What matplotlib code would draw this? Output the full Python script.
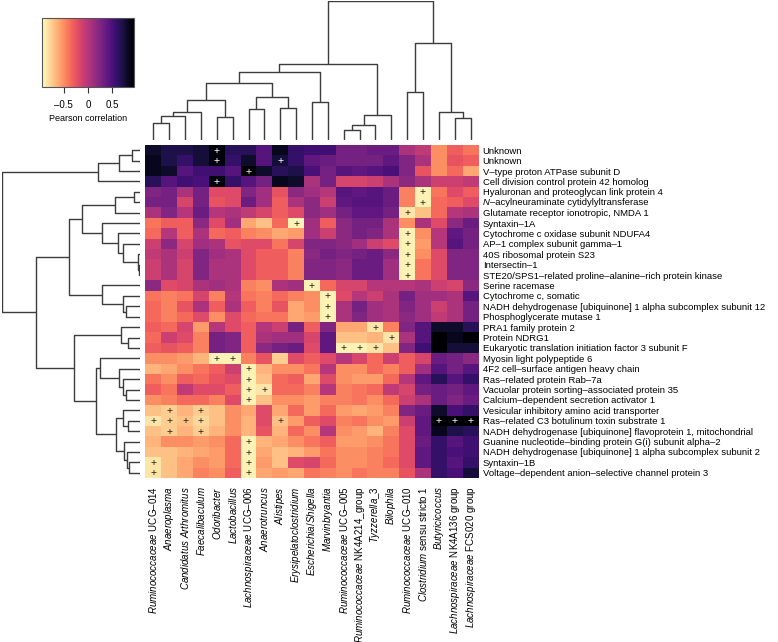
import numpy as np
import matplotlib
matplotlib.use("Agg")
import matplotlib.pyplot as plt
from matplotlib.colors import Normalize
from matplotlib.cm import ScalarMappable

plt.rcParams['font.family'] = ['Liberation Sans', 'DejaVu Sans']
plt.rcParams['mathtext.fontset'] = 'custom'
plt.rcParams['mathtext.rm'] = 'Liberation Sans'
plt.rcParams['mathtext.it'] = 'Liberation Sans:italic'

# bacteria (columns, in dendrogram order)
bacteria = [
    r'$\it{Ruminococcaceae}$ UCG–014', r'$\it{Anaeroplasma}$',
    r'$\it{Candidatus}$ $\it{Arthromitus}$', r'$\it{Faecalibaculum}$',
    r'$\it{Odoribacter}$', r'$\it{Lactobacillus}$',
    r'$\it{Lachnospiraceae}$ UCG–006', r'$\it{Anaerotruncus}$',
    r'$\it{Alistipes}$', r'$\it{Erysipelatoclostridium}$',
    r'$\it{Escherichia/Shigella}$', r'$\it{Marvinbryantia}$',
    r'$\it{Ruminococcaceae}$ UCG–005', r'$\it{Ruminococcaceae}$ NK4A214_group',
    r'$\it{Tyzzerella}$_3', r'$\it{Bilophila}$',
    r'$\it{Ruminococcaceae}$ UCG–010', r'$\it{Clostridium}$ sensu stricto 1',
    r'$\it{Butyricicoccus}$', r'$\it{Lachnospiraceae}$ NK4A136 group',
    r'$\it{Lachnospiraceae}$ FCS020 group',
]

# proteins (rows, in dendrogram order)
proteins = [
    'Unknown', 'Unknown', 'V–type proton ATPase subunit D',
    'Cell division control protein 42 homolog',
    'Hyaluronan and proteoglycan link protein 4',
    'N–acylneuraminate cytidylyltransferase',
    'Glutamate receptor ionotropic, NMDA 1', 'Syntaxin–1A',
    'Cytochrome c oxidase subunit NDUFA4', 'AP–1 complex subunit gamma–1',
    '40S ribosomal protein S23', 'Intersectin–1',
    'STE20/SPS1–related proline–alanine–rich protein kinase',
    'Serine racemase', 'Cytochrome c, somatic',
    'NADH dehydrogenase [ubiquinone] 1 alpha subcomplex subunit 12',
    'Phosphoglycerate mutase 1', 'PRA1 family protein 2', 'Protein NDRG1',
    'Eukaryotic translation initiation factor 3 subunit F',
    'Myosin light polypeptide 6', '4F2 cell–surface antigen heavy chain',
    'Ras–related protein Rab–7a',
    'Vacuolar protein sorting–associated protein 35',
    'Calcium–dependent secretion activator 1',
    'Vesicular inhibitory amino acid transporter',
    'Ras–related C3 botulinum toxin substrate 1',
    'NADH dehydrogenase [ubiquinone] flavoprotein 1, mitochondrial',
    'Guanine nucleotide–binding protein G(i) subunit alpha–2',
    'NADH dehydrogenase [ubiquinone] 1 alpha subcomplex subunit 2',
    'Syntaxin–1B', 'Voltage–dependent anion–selective channel protein 3',
]
# leading part of a protein label set in italics
italic_prefix = {5: 'N'}

# Pearson correlation, rows = proteins, columns = bacteria
corr = [
    [0.80, 0.70, 0.70, 0.75, 0.90, 0.65, 0.65, 0.45, 0.85, 0.60, 0.55, 0.55, 0.30, 0.30, 0.35, 0.35, 0.05, -0.05, -0.50, -0.30, -0.40],
    [0.85, 0.70, 0.60, 0.75, 0.90, 0.60, 0.80, 0.45, 0.75, 0.60, 0.40, 0.35, 0.30, 0.30, 0.30, 0.40, 0.25, 0.05, -0.50, -0.25, -0.30],
    [0.85, 0.80, 0.45, 0.55, 0.55, 0.45, 0.95, 0.80, 0.65, 0.70, 0.50, 0.30, 0.45, 0.40, 0.45, 0.50, 0.25, -0.25, -0.50, -0.35, -0.60],
    [0.65, 0.45, 0.55, 0.50, 0.90, 0.60, 0.45, 0.30, 0.85, 0.80, 0.05, 0.30, -0.15, -0.15, -0.10, 0.05, 0.20, 0.05, -0.10, -0.10, -0.05],
    [0.25, 0.30, 0.05, 0.30, -0.20, -0.20, 0.25, 0.10, -0.25, 0.20, 0.10, 0.00, 0.45, 0.40, 0.45, 0.35, -0.45, -0.90, -0.40, -0.20, -0.30],
    [0.30, 0.30, -0.15, 0.30, -0.25, -0.20, 0.35, 0.10, -0.30, 0.05, 0.20, -0.10, 0.40, 0.45, 0.45, 0.35, -0.45, -0.90, -0.35, -0.30, -0.20],
    [0.05, 0.25, 0.00, 0.35, 0.00, 0.05, -0.05, -0.15, -0.30, -0.20, 0.20, 0.10, 0.30, 0.40, 0.40, 0.30, -0.85, -0.70, -0.35, 0.00, 0.05],
    [-0.40, -0.30, -0.30, 0.20, -0.20, 0.10, -0.60, -0.70, -0.35, -0.90, 0.10, -0.30, 0.20, 0.30, 0.30, 0.05, -0.50, 0.05, -0.20, 0.20, 0.35],
    [-0.35, 0.00, -0.30, 0.05, -0.35, -0.30, -0.45, -0.50, -0.60, -0.55, 0.10, -0.10, 0.20, 0.30, 0.25, 0.05, -0.90, -0.50, 0.00, 0.40, 0.30],
    [-0.10, 0.20, -0.15, 0.10, 0.05, -0.25, -0.20, -0.20, -0.40, -0.15, 0.25, 0.25, 0.20, 0.10, -0.10, -0.20, -0.90, -0.55, 0.00, 0.45, 0.30],
    [-0.05, 0.05, -0.10, 0.25, 0.10, 0.05, -0.20, -0.30, -0.30, -0.45, 0.20, 0.30, 0.25, 0.30, 0.35, 0.20, -0.90, -0.50, -0.20, 0.25, 0.25],
    [-0.10, 0.05, -0.15, 0.25, 0.05, 0.05, -0.20, -0.30, -0.30, -0.45, 0.25, 0.25, 0.20, 0.35, 0.35, 0.10, -0.90, -0.40, -0.20, 0.25, 0.25],
    [-0.10, 0.05, -0.15, 0.25, 0.05, 0.05, -0.20, -0.30, -0.30, -0.45, 0.25, 0.25, 0.20, 0.35, 0.35, 0.10, -0.90, -0.40, -0.20, 0.25, 0.25],
    [0.20, -0.20, -0.15, 0.05, 0.10, 0.05, -0.45, -0.50, 0.05, 0.10, -0.90, -0.35, -0.15, -0.15, 0.00, 0.00, 0.00, 0.05, -0.10, -0.15, 0.20],
    [-0.40, -0.45, -0.40, -0.15, -0.45, 0.00, -0.40, -0.45, -0.35, -0.45, -0.50, -0.90, -0.20, 0.00, -0.10, 0.05, 0.30, 0.10, 0.10, 0.05, 0.45],
    [-0.35, -0.45, -0.25, 0.05, -0.30, 0.05, -0.30, -0.45, -0.25, -0.60, -0.50, -0.90, 0.05, 0.30, 0.10, 0.05, 0.25, 0.10, -0.10, 0.05, 0.30],
    [-0.35, -0.45, -0.35, -0.20, -0.50, -0.20, -0.35, -0.40, -0.40, -0.60, -0.55, -0.90, 0.05, 0.25, 0.10, 0.05, 0.20, 0.10, -0.05, 0.05, 0.30],
    [-0.30, -0.35, -0.15, -0.55, 0.00, -0.20, -0.30, 0.00, -0.10, 0.30, -0.30, 0.25, -0.60, -0.60, -0.85, -0.45, 0.25, 0.45, 0.80, 0.80, 0.65],
    [-0.35, -0.10, -0.20, -0.45, 0.30, 0.25, -0.30, 0.05, 0.10, 0.10, -0.15, 0.40, -0.70, -0.70, -0.65, -0.85, 0.05, 0.45, 0.95, 0.85, 0.95],
    [-0.30, -0.25, -0.30, -0.45, 0.30, 0.25, -0.30, 0.20, 0.30, 0.35, -0.20, 0.40, -0.90, -0.90, -0.85, -0.70, 0.25, 0.55, 0.95, 0.75, 0.75],
    [-0.50, -0.50, -0.55, -0.65, -0.90, -0.90, -0.45, -0.25, -0.75, -0.20, -0.30, -0.20, 0.00, -0.15, -0.35, -0.10, -0.30, -0.15, 0.35, 0.30, 0.20],
    [-0.65, -0.60, -0.50, -0.40, -0.30, -0.10, -0.90, -0.65, -0.50, -0.50, -0.40, 0.00, -0.50, -0.50, -0.35, -0.45, -0.30, 0.10, 0.45, 0.30, 0.45],
    [-0.40, -0.50, -0.30, -0.35, -0.25, -0.20, -0.90, -0.70, -0.35, -0.30, -0.60, -0.20, -0.50, -0.55, -0.55, -0.35, 0.00, 0.40, 0.65, 0.45, 0.60],
    [-0.30, -0.40, -0.05, -0.20, -0.20, -0.30, -0.90, -0.85, -0.35, -0.35, -0.45, 0.00, -0.45, -0.40, -0.35, -0.05, -0.15, 0.30, 0.35, 0.30, 0.40],
    [-0.50, -0.45, -0.35, -0.35, -0.45, -0.20, -0.90, -0.70, -0.50, -0.50, -0.55, -0.45, -0.45, -0.40, -0.50, -0.35, -0.10, 0.05, 0.35, 0.25, 0.35],
    [-0.70, -0.75, -0.65, -0.75, -0.70, -0.50, -0.60, -0.20, -0.60, -0.35, -0.55, -0.35, -0.55, -0.60, -0.55, -0.45, 0.25, 0.35, 0.80, 0.50, 0.60],
    [-0.85, -0.75, -0.70, -0.80, -0.70, -0.50, -0.65, -0.20, -0.70, -0.55, -0.30, -0.20, -0.45, -0.40, -0.50, -0.55, -0.10, 0.40, 0.95, 0.95, 0.95],
    [-0.70, -0.75, -0.65, -0.75, -0.65, -0.50, -0.65, -0.25, -0.65, -0.35, -0.50, 0.00, -0.50, -0.55, -0.65, -0.45, -0.20, 0.40, 0.85, 0.70, 0.65],
    [-0.65, -0.50, -0.50, -0.55, -0.50, -0.35, -0.90, -0.65, -0.60, -0.50, -0.40, -0.30, -0.55, -0.55, -0.50, -0.40, -0.20, 0.35, 0.60, 0.45, 0.55],
    [-0.70, -0.70, -0.65, -0.60, -0.55, -0.35, -0.90, -0.60, -0.70, -0.65, -0.55, -0.40, -0.50, -0.50, -0.45, -0.40, -0.20, 0.40, 0.60, 0.50, 0.55],
    [-0.85, -0.70, -0.60, -0.50, -0.55, -0.35, -0.90, -0.55, -0.70, -0.20, -0.15, -0.35, -0.50, -0.50, -0.45, -0.35, -0.20, 0.40, 0.60, 0.45, 0.60],
    [-0.85, -0.70, -0.60, -0.45, -0.50, -0.30, -0.90, -0.60, -0.55, -0.60, -0.40, -0.45, -0.50, -0.40, -0.45, -0.45, -0.25, 0.05, 0.60, 0.50, 0.75],
]

# significant cells (row, column)
signif = [
    (0, 4), (1, 4), (1, 8), (2, 6), (3, 4), (4, 17), (5, 17), (6, 16), (7, 9),
    (8, 16), (9, 16), (10, 16), (11, 16), (12, 16), (13, 10), (14, 11),
    (15, 11), (16, 11), (17, 14), (18, 15), (19, 12), (19, 13), (19, 14),
    (20, 4), (20, 5), (21, 6), (22, 6), (23, 6), (23, 7), (24, 6), (25, 1),
    (25, 3), (26, 0), (26, 1), (26, 2), (26, 3), (26, 8), (26, 18), (26, 19),
    (26, 20), (27, 1), (27, 3), (28, 6), (29, 6), (30, 0), (30, 6), (31, 0),
    (31, 6),
]

# dendrograms: (height, left, right), leaves are indices
col_tree = (417,
            (227,
             (203,
              (170,
               (120, (85, (72, (52, 0, 1), 2), 3), (70, 4, 5)),
               (128, (92, 6, 7), (97, 8, 9))),
              (115, 10, 11)),
             (75, (45, (30, 12, 13), 14), 15)),
            (292, (144, 16, 17), (83, 18, (65, 19, 20))))

row_tree = (413,
            (125, (61, (23, 0, 1), 2), 3),
            (310,
             (210,
              (171,
               (73, (15, 4, 5), 6),
               (113, 7, (65, 8, (50, 9, (3, 10, (2, 11, 12)))))),
              (113, 13, (50, 14, (41, 15, 16)))),
             (196,
              (56, 17, (33, 18, 19)),
              (131,
               (118, 20, (60, 21, (48, 22, (40, 23, 24)))),
               (71, (50, 25, (35, 26, 27)),
                (45, 28, (38, 29, (30, 30, 31))))))))

data = np.array(corr)
nrow, ncol = data.shape
vmin, vmax = -0.95, 0.95
cmap = plt.get_cmap('magma_r')
norm = Normalize(vmin, vmax)

W, H = 778, 642
fig = plt.figure(figsize=(W / 100, H / 100), dpi=100)


def px_axes(x0, y0, x1, y1):
    return fig.add_axes([x0 / W, 1 - y1 / H, (x1 - x0) / W, (y1 - y0) / H])


def draw_tree(ax, node, vertical, color='#3c3c3c'):
    # returns (position, height) of node
    if not isinstance(node, tuple):
        return node, 0
    h, a, b = node
    pa, ha = draw_tree(ax, a, vertical, color)
    pb, hb = draw_tree(ax, b, vertical, color)
    pos = [pa, pa, pb, pb]
    hts = [ha, h, h, hb]
    if vertical:
        ax.plot(pos, hts, color=color, lw=1.0, solid_capstyle='butt')
    else:
        ax.plot(hts, pos, color=color, lw=1.0, solid_capstyle='butt')
    return (pa + pb) / 2, h


# heatmap
hx0, hy0, hx1, hy1 = 145.4, 145, 478.5, 478
ax = px_axes(hx0, hy0, hx1, hy1)
ax.pcolormesh(np.arange(ncol + 1) - 0.5, np.arange(nrow + 1) - 0.5, data,
              cmap=cmap, norm=norm)
ax.set_xlim(-0.5, ncol - 0.5)
ax.set_ylim(nrow - 0.5, -0.5)
for r, c in signif:
    col = 'white' if data[r, c] > 0.3 else '#222222'
    ax.text(c, r + 0.05, '+', ha='center', va='center', fontsize=7.5, color=col)
for s in ax.spines.values():
    s.set_visible(False)
ax.set_xticks(np.arange(ncol))
ax.set_xticklabels(bacteria, rotation=90, fontsize=7, va='top', ha='center')
ax.set_yticks(np.arange(nrow))
ax.set_yticklabels(['' if i in italic_prefix else p
                    for i, p in enumerate(proteins)], fontsize=6.8)
ax.yaxis.tick_right()
ax.tick_params(axis='x', length=0, pad=6)
ax.tick_params(axis='y', length=0, pad=3)

# labels with an italic leading part, built from two texts
for i, pre in italic_prefix.items():
    head = ax.annotate(pre, xy=(1, i), xycoords=('axes fraction', 'data'),
                       xytext=(3, 0), textcoords='offset points',
                       fontsize=6.8, fontstyle='italic',
                       ha='left', va='center')
    ax.annotate(proteins[i][len(pre):], xy=(1, 0), xycoords=head,
                fontsize=6.8, ha='left', va='bottom')

# top dendrogram
axt = px_axes(hx0, 1, hx1, 140)
draw_tree(axt, col_tree, True)
axt.set_xlim(-0.5, ncol - 0.5)
axt.set_ylim(0, col_tree[0])
axt.axis('off')

# left dendrogram
axl = px_axes(1.5, hy0, 139.5, hy1)
draw_tree(axl, row_tree, False)
axl.set_ylim(nrow - 0.5, -0.5)
axl.set_xlim(row_tree[0], 0)
axl.axis('off')

# colour key
axc = px_axes(42, 18, 134, 87)
cb = fig.colorbar(ScalarMappable(norm=norm, cmap=cmap), cax=axc,
                  orientation='horizontal', ticks=[-0.5, 0, 0.5])
cb.ax.set_xticklabels(['–0.5', '0', '0.5'])
cb.ax.tick_params(labelsize=7, length=4, width=0.8, color='#333333', pad=5)
cb.outline.set_linewidth(0.8)
cb.outline.set_edgecolor('#555555')
cb.set_label('Pearson correlation', fontsize=6.5, labelpad=3)

fig.savefig('out.png', dpi=100)
